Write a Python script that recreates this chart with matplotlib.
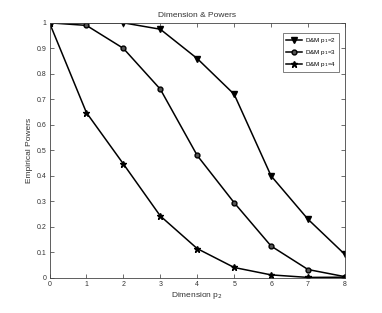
import matplotlib
matplotlib.use("Agg")
import matplotlib.pyplot as plt

dims = [0, 1, 2, 3, 4, 5, 6, 7, 8]
power_p1_2 = [1.0, 1.0, 1.0, 0.975, 0.86, 0.72, 0.40, 0.23, 0.092]
power_p1_3 = [1.0, 0.99, 0.90, 0.74, 0.48, 0.295, 0.125, 0.033, 0.005]
power_p1_4 = [1.0, 0.648, 0.447, 0.243, 0.115, 0.041, 0.012, 0.002, 0.003]

plt.rcParams['font.family'] = ['Liberation Sans', 'DejaVu Sans']

fig = plt.figure(figsize=(3.82, 3.13), dpi=100)
ax = fig.add_axes([0.1296, 0.112, 0.7734, 0.815])

ax.plot(dims, power_p1_2, color='black', lw=1.1, marker='v', ms=4, label='D&M p$_1$=2')
ax.plot(dims, power_p1_3, color='black', lw=1.1, marker='o', ms=3.5, mfc='#555555', label='D&M p$_1$=3')
ax.plot(dims, power_p1_4, color='black', lw=1.1, marker='*', ms=5, label='D&M p$_1$=4')

ax.set_xlim(0, 8)
ax.set_ylim(0, 1)
ax.set_xticks(dims)
ax.set_yticks([0, 0.1, 0.2, 0.3, 0.4, 0.5, 0.6, 0.7, 0.8, 0.9, 1])
ax.set_yticklabels(['0', '0.1', '0.2', '0.3', '0.4', '0.5', '0.6', '0.7', '0.8', '0.9', '1'])
ax.tick_params(direction='in', top=True, right=True, labelsize=5, length=3, width=0.5, colors='#333333', pad=2)
for s in ax.spines.values():
    s.set_linewidth(0.6)
    s.set_color('#444444')

ax.set_title('Dimension & Powers', fontsize=6, color='#333333', pad=4)
ax.set_xlabel('Dimension p$_2$', fontsize=6, color='#333333', labelpad=2)
ax.set_ylabel('Empirical Powers', fontsize=6, color='#333333', labelpad=3)

leg = ax.legend(loc='upper right', fontsize=4.5, fancybox=False, edgecolor='#444444',
                handlelength=2.6, handletextpad=0.4, borderpad=0.5, labelspacing=0.45,
                borderaxespad=0, bbox_to_anchor=(0.98, 0.96))
leg.get_frame().set_linewidth(0.6)

fig.savefig('out.png', dpi=100)
